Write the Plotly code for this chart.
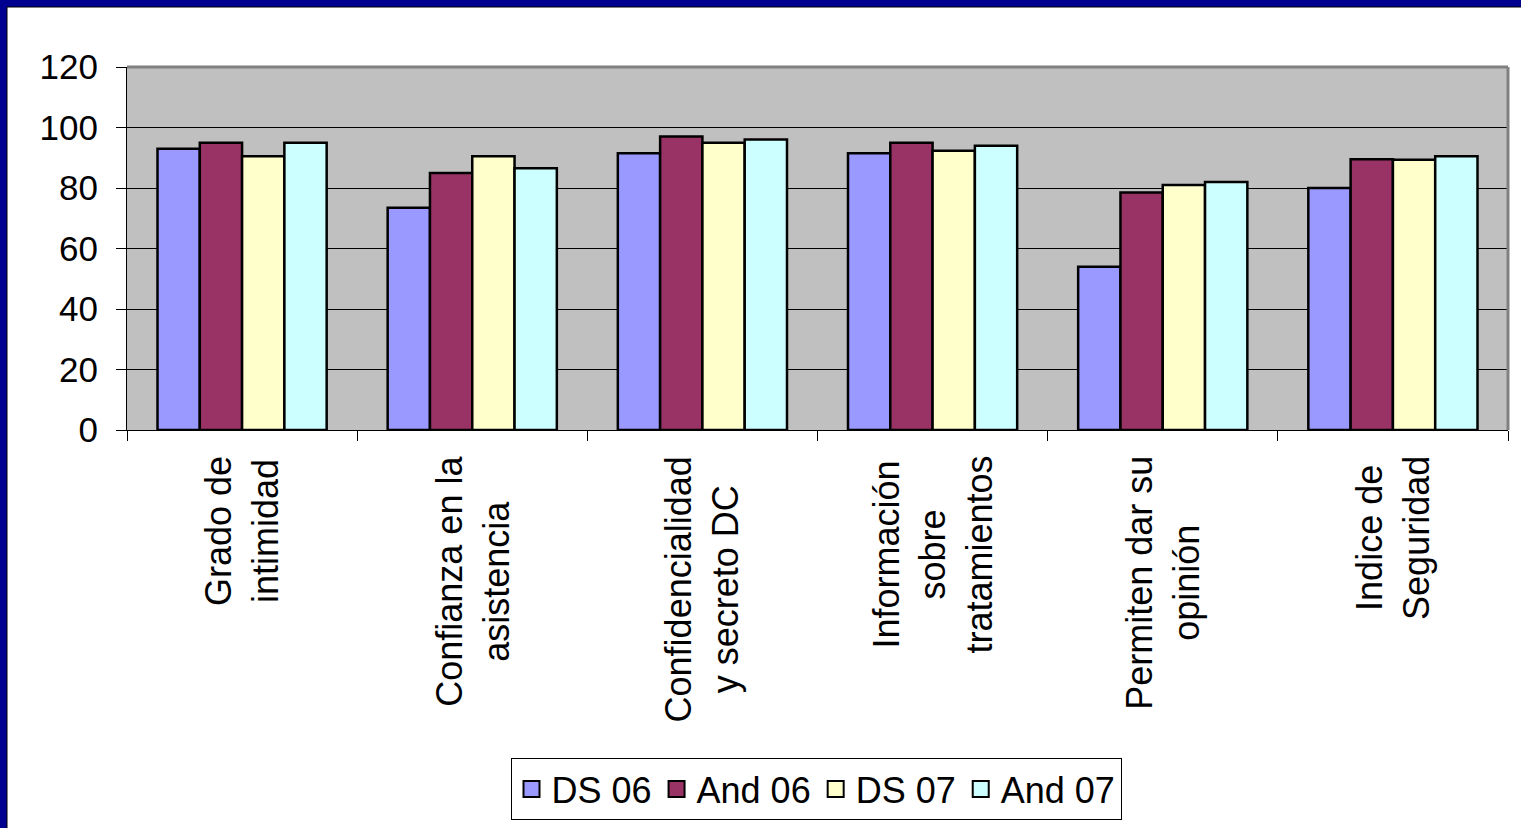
import plotly.graph_objects as go

categories = [
    "Grado de\nintimidad",
    "Confianza en la\nasistencia",
    "Confidencialidad\ny secreto DC",
    "Información\nsobre\ntratamientos",
    "Permiten dar su\nopinión",
    "Indice de\nSeguridad",
]
series_names = ["DS 06", "And 06", "DS 07", "And 07"]
ds06 = [93, 73.5, 91.5, 91.5, 54, 80]
and06 = [95, 85, 97, 95, 78.5, 89.5]
ds07 = [90.5, 90.5, 95, 92.3, 81, 89.3]
and07 = [95, 86.5, 96, 94, 82, 90.5]
colors = ["#9999FF", "#993366", "#FFFFCC", "#CCFFFF"]
y_ticks = [0, 20, 40, 60, 80, 100, 120]

FONT = "Arial, Liberation Sans, sans-serif"
W, H = 1521, 828
L, R, T, B = 127, 13, 67, 398
pw, ph = W - L - R, H - T - B

xkeys = [c.replace("\n", " ") for c in categories]

fig = go.Figure()
for name, vals, col in zip(series_names, [ds06, and06, ds07, and07], colors):
    fig.add_trace(go.Bar(
        x=xkeys, y=vals, name=name, showlegend=False, legendgroup=name,
        marker=dict(color=col, line=dict(color="black", width=2.5)),
    ))
# legend entries with larger square swatches
for name, col in zip(series_names, colors):
    fig.add_trace(go.Scatter(
        x=[None], y=[None], name=name, mode="markers", legendgroup=name,
        marker=dict(symbol="square", size=22, color=col, line=dict(color="black", width=2)),
    ))

annotations = []
for key, cat in zip(xkeys, categories):
    annotations.append(dict(
        x=key, xref="x", y=0, yref="paper", yanchor="top", xanchor="center",
        yshift=-24, text=cat.replace("\n", "<br>"), textangle=-90,
        showarrow=False, align="center",
        font=dict(family=FONT, size=36, color="black"),
    ))

def px_x(p):
    return (p - L) / pw

def px_y(p):
    return (H - B - p) / ph

shapes = [
    dict(type="rect", xref="paper", yref="paper", x0=px_x(0), x1=px_x(W), y0=px_y(0), y1=px_y(7),
         fillcolor="#000090", line=dict(width=0), layer="below"),
    dict(type="line", xref="paper", yref="paper", x0=px_x(7), x1=px_x(W), y0=px_y(7), y1=px_y(7),
         line=dict(color="black", width=1), layer="below"),
    dict(type="rect", xref="paper", yref="paper", x0=px_x(0), x1=px_x(7), y0=px_y(0), y1=px_y(H),
         fillcolor="#000090", line=dict(width=0), layer="below"),
    dict(type="line", xref="paper", yref="paper", x0=px_x(7), x1=px_x(7), y0=px_y(7), y1=px_y(H),
         line=dict(color="black", width=1), layer="below"),
    dict(type="line", xref="paper", yref="paper", x0=0, x1=1, y0=1, y1=1,
         line=dict(color="#808080", width=3)),
    dict(type="line", xref="paper", yref="paper", x0=1, x1=1, y0=0, y1=1,
         line=dict(color="#808080", width=3)),
]

fig.update_layout(
    width=W, height=H,
    margin=dict(l=L, r=R, t=T, b=B, autoexpand=False),
    paper_bgcolor="white",
    plot_bgcolor="#C0C0C0",
    barmode="group", bargap=0.265, bargroupgap=0,
    font=dict(family=FONT, size=34, color="black"),
    showlegend=True,
    legend=dict(
        orientation="h", x=px_x(816), xanchor="center", y=px_y(758), yanchor="top",
        bgcolor="white", bordercolor="black", borderwidth=1,
        font=dict(family=FONT, size=36, color="black"),
        traceorder="normal", itemsizing="trace",
    ),
    annotations=annotations,
    shapes=shapes,
    xaxis=dict(
        type="category", showticklabels=False, showline=True, linecolor="black", linewidth=1,
        ticks="outside", tickson="boundaries", ticklen=10, tickcolor="black", showgrid=False,
    ),
    yaxis=dict(
        range=[0, 120], tickvals=y_ticks, ticktext=[str(v) for v in y_ticks],
        showgrid=True, gridcolor="black", gridwidth=1, zeroline=False,
        showline=True, linecolor="black", linewidth=1,
        ticks="outside", ticklen=10, tickcolor="black",
        tickfont=dict(family=FONT, size=35, color="black"),
        ticklabelstandoff=11,
    ),
)

fig.write_html("out.html")
